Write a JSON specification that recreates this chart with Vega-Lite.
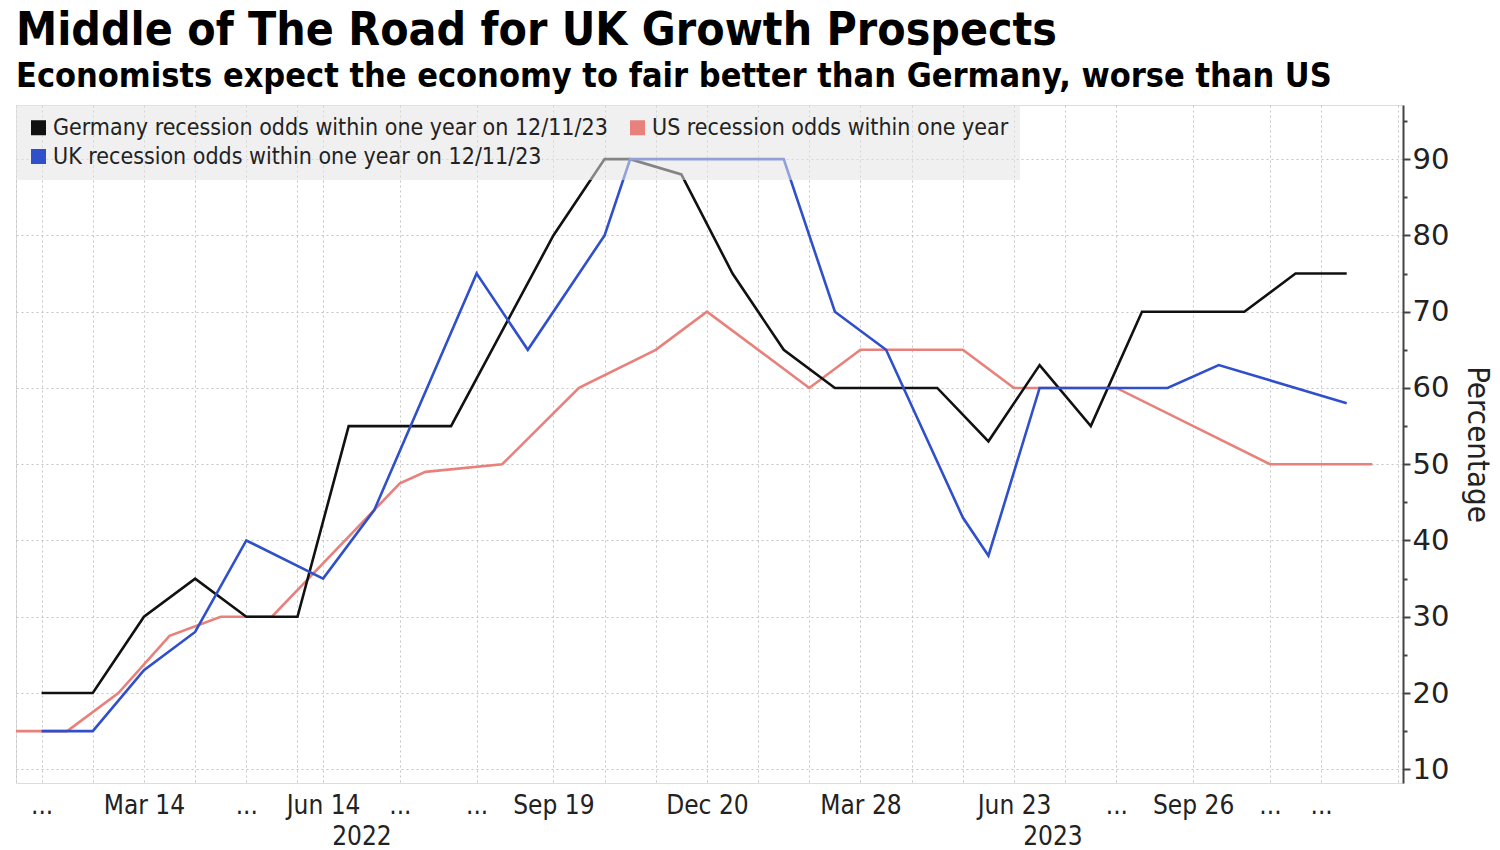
{
  "$schema": "https://vega.github.io/schema/vega-lite/v6.json",
  "width": 1387,
  "height": 678,
  "padding": {"left": 10, "top": 8, "right": 0, "bottom": 0},
  "background": "white",
  "title": {
    "text": "Middle of The Road for UK Growth Prospects",
    "subtitle": "Economists expect the economy to fair better than Germany, worse than US",
    "anchor": "start",
    "frame": "group",
    "font": "DejaVu Sans Condensed, DejaVu Sans",
    "fontSize": 46,
    "fontWeight": "bold",
    "color": "#000000",
    "subtitleFont": "DejaVu Sans Condensed, DejaVu Sans",
    "subtitleFontSize": 34,
    "subtitleFontWeight": "bold",
    "subtitleColor": "#000000",
    "subtitlePadding": 5,
    "offset": 10
  },
  "data": {
    "values": [
      {"s": "Germany recession odds within one year on 12/11/23", "u": 1, "v": 20},
      {"s": "Germany recession odds within one year on 12/11/23", "u": 3, "v": 20},
      {"s": "Germany recession odds within one year on 12/11/23", "u": 5, "v": 30},
      {"s": "Germany recession odds within one year on 12/11/23", "u": 7, "v": 35},
      {"s": "Germany recession odds within one year on 12/11/23", "u": 9, "v": 30},
      {"s": "Germany recession odds within one year on 12/11/23", "u": 11, "v": 30},
      {"s": "Germany recession odds within one year on 12/11/23", "u": 13, "v": 55},
      {"s": "Germany recession odds within one year on 12/11/23", "u": 15, "v": 55},
      {"s": "Germany recession odds within one year on 12/11/23", "u": 17, "v": 55},
      {"s": "Germany recession odds within one year on 12/11/23", "u": 21, "v": 80},
      {"s": "Germany recession odds within one year on 12/11/23", "u": 23, "v": 90},
      {"s": "Germany recession odds within one year on 12/11/23", "u": 24, "v": 90},
      {"s": "Germany recession odds within one year on 12/11/23", "u": 26, "v": 88},
      {"s": "Germany recession odds within one year on 12/11/23", "u": 28, "v": 75},
      {"s": "Germany recession odds within one year on 12/11/23", "u": 30, "v": 65},
      {"s": "Germany recession odds within one year on 12/11/23", "u": 32, "v": 60},
      {"s": "Germany recession odds within one year on 12/11/23", "u": 36, "v": 60},
      {"s": "Germany recession odds within one year on 12/11/23", "u": 38, "v": 53},
      {"s": "Germany recession odds within one year on 12/11/23", "u": 40, "v": 63},
      {"s": "Germany recession odds within one year on 12/11/23", "u": 42, "v": 55},
      {"s": "Germany recession odds within one year on 12/11/23", "u": 44, "v": 70},
      {"s": "Germany recession odds within one year on 12/11/23", "u": 48, "v": 70},
      {"s": "Germany recession odds within one year on 12/11/23", "u": 50, "v": 75},
      {"s": "Germany recession odds within one year on 12/11/23", "u": 52, "v": 75},
      {"s": "UK recession odds within one year on 12/11/23", "u": 1, "v": 15},
      {"s": "UK recession odds within one year on 12/11/23", "u": 3, "v": 15},
      {"s": "UK recession odds within one year on 12/11/23", "u": 5, "v": 23},
      {"s": "UK recession odds within one year on 12/11/23", "u": 7, "v": 28},
      {"s": "UK recession odds within one year on 12/11/23", "u": 9, "v": 40},
      {"s": "UK recession odds within one year on 12/11/23", "u": 12, "v": 35},
      {"s": "UK recession odds within one year on 12/11/23", "u": 14, "v": 44},
      {"s": "UK recession odds within one year on 12/11/23", "u": 18, "v": 75},
      {"s": "UK recession odds within one year on 12/11/23", "u": 20, "v": 65},
      {"s": "UK recession odds within one year on 12/11/23", "u": 23, "v": 80},
      {"s": "UK recession odds within one year on 12/11/23", "u": 24, "v": 90},
      {"s": "UK recession odds within one year on 12/11/23", "u": 30, "v": 90},
      {"s": "UK recession odds within one year on 12/11/23", "u": 32, "v": 70},
      {"s": "UK recession odds within one year on 12/11/23", "u": 34, "v": 65},
      {"s": "UK recession odds within one year on 12/11/23", "u": 37, "v": 43},
      {"s": "UK recession odds within one year on 12/11/23", "u": 38, "v": 38},
      {"s": "UK recession odds within one year on 12/11/23", "u": 40, "v": 60},
      {"s": "UK recession odds within one year on 12/11/23", "u": 45, "v": 60},
      {"s": "UK recession odds within one year on 12/11/23", "u": 47, "v": 63},
      {"s": "UK recession odds within one year on 12/11/23", "u": 52, "v": 58},
      {"s": "US recession odds within one year", "u": 0, "v": 15},
      {"s": "US recession odds within one year", "u": 2, "v": 15},
      {"s": "US recession odds within one year", "u": 4, "v": 20},
      {"s": "US recession odds within one year", "u": 6, "v": 27.5},
      {"s": "US recession odds within one year", "u": 8, "v": 30},
      {"s": "US recession odds within one year", "u": 10, "v": 30},
      {"s": "US recession odds within one year", "u": 15, "v": 47.5},
      {"s": "US recession odds within one year", "u": 16, "v": 49},
      {"s": "US recession odds within one year", "u": 19, "v": 50},
      {"s": "US recession odds within one year", "u": 22, "v": 60},
      {"s": "US recession odds within one year", "u": 25, "v": 65},
      {"s": "US recession odds within one year", "u": 27, "v": 70},
      {"s": "US recession odds within one year", "u": 31, "v": 60},
      {"s": "US recession odds within one year", "u": 33, "v": 65},
      {"s": "US recession odds within one year", "u": 37, "v": 65},
      {"s": "US recession odds within one year", "u": 39, "v": 60},
      {"s": "US recession odds within one year", "u": 43, "v": 60},
      {"s": "US recession odds within one year", "u": 49, "v": 50},
      {"s": "US recession odds within one year", "u": 53, "v": 50}
    ]
  },
  "encoding": {
    "y": {
      "field": "v",
      "type": "quantitative",
      "scale": {"domain": [8.2, 97.1], "nice": false, "zero": false},
      "axis": {
        "orient": "right",
        "values": [10, 15, 20, 25, 30, 35, 40, 45, 50, 55, 60, 65, 70, 75, 80, 85, 90, 95],
        "labelExpr": "datum.value % 10 === 0 ? datum.label : ''",
        "grid": true,
        "gridColor": "#c4c4c4",
        "gridDash": [2, 3],
        "gridWidth": 1,
        "gridOpacity": {"condition": {"test": "datum.value % 10 !== 0", "value": 0}, "value": 1},
        "tickSize": {"condition": {"test": "datum.value % 10 !== 0", "value": 4}, "value": 7},
        "tickColor": "#444444",
        "tickWidth": 2,
        "domainColor": "#444444",
        "domainWidth": 2,
        "labelFont": "DejaVu Sans",
        "labelFontSize": 29,
        "labelColor": "#222222",
        "labelPadding": 2,
        "labelOverlap": false,
        "labelFlush": false,
        "title": "Percentage",
        "titleFont": "DejaVu Sans Condensed, DejaVu Sans",
        "titleFontSize": 31,
        "titleFontWeight": "normal",
        "titleColor": "#222222",
        "titlePadding": 12
      }
    },
    "color": {
      "field": "s",
      "type": "nominal",
      "scale": {
        "domain": ["Germany recession odds within one year on 12/11/23", "US recession odds within one year", "UK recession odds within one year on 12/11/23"],
        "range": ["#111111", "#e8817b", "#2f4fcb"]
      },
      "legend": {
        "title": null,
        "orient": "top-left",
        "direction": "horizontal",
        "values": ["Germany recession odds within one year on 12/11/23", "US recession odds within one year", "UK recession odds within one year on 12/11/23"],
        "offset": 0,
        "padding": 11,
        "fillColor": "rgba(228,228,228,0.55)",
        "columns": 2,
        "columnPadding": 18,
        "rowPadding": 5,
        "symbolType": "square",
        "symbolSize": 225,
        "symbolStrokeWidth": 0,
        "labelFont": "DejaVu Sans Condensed, DejaVu Sans",
        "labelFontSize": 23,
        "labelColor": "#222222",
        "labelLimit": 1000,
        "labelOffset": 3,
        "encode": {
          "symbols": {"update": {"fill": {"scale": "color", "field": "value"}, "strokeWidth": {"value": 0}}}
        }
      }
    }
  },
  "layer": [
    {
      "transform": [{"filter": "datum.s === 'US recession odds within one year'"}],
      "mark": {"type": "line", "strokeWidth": 2.6},
      "encoding": {
        "x": {"field": "u", "type": "quantitative", "scale": {"domain": [0, 54.2], "nice": false, "zero": false}, "axis": null}
      }
    },
    {
      "transform": [{"filter": "datum.s === 'Germany recession odds within one year on 12/11/23'"}],
      "mark": {"type": "line", "strokeWidth": 2.6},
      "encoding": {
        "x": {
          "field": "u",
          "type": "quantitative",
          "scale": {"domain": [0, 54.2], "nice": false, "zero": false},
          "axis": {
            "orient": "bottom",
            "values": [0, 1, 3, 5, 7, 9, 11, 12, 15, 18, 21, 23, 25, 27, 29, 31, 33, 35, 37, 39, 41, 43, 46, 49, 51, 54],
            "labelExpr": "datum.value==1||datum.value==9||datum.value==15||datum.value==18||datum.value==43||datum.value==49||datum.value==51 ? '...' : datum.value==5 ? 'Mar 14' : datum.value==12 ? 'Jun 14' : datum.value==21 ? 'Sep 19' : datum.value==27 ? 'Dec 20' : datum.value==33 ? 'Mar 28' : datum.value==39 ? 'Jun 23' : datum.value==46 ? 'Sep 26' : ''",
            "grid": true,
            "gridColor": "#c4c4c4",
            "gridDash": [2, 3],
            "gridWidth": 1,
            "ticks": false,
            "domain": false,
            "labelFont": "DejaVu Sans Condensed, DejaVu Sans",
            "labelFontSize": 26,
            "labelColor": "#222222",
            "labelPadding": 9,
            "labelOverlap": false,
            "labelFlush": false,
            "title": null
          }
        }
      }
    },
    {
      "transform": [{"filter": "datum.s === 'UK recession odds within one year on 12/11/23'"}],
      "mark": {"type": "line", "strokeWidth": 2.6},
      "encoding": {
        "x": {
          "field": "u",
          "type": "quantitative",
          "scale": {"domain": [0, 54.2], "nice": false, "zero": false},
          "axis": {
            "orient": "bottom",
            "values": [13.5, 40.5],
            "labelExpr": "datum.value < 20 ? '2022' : '2023'",
            "grid": false,
            "ticks": false,
            "domain": false,
            "labelFont": "DejaVu Sans Condensed, DejaVu Sans",
            "labelFontSize": 26,
            "labelColor": "#222222",
            "labelPadding": 40,
            "labelOverlap": false,
            "labelFlush": false,
            "title": null
          }
        }
      }
    }
  ],
  "resolve": {"axis": {"x": "independent"}}
}
